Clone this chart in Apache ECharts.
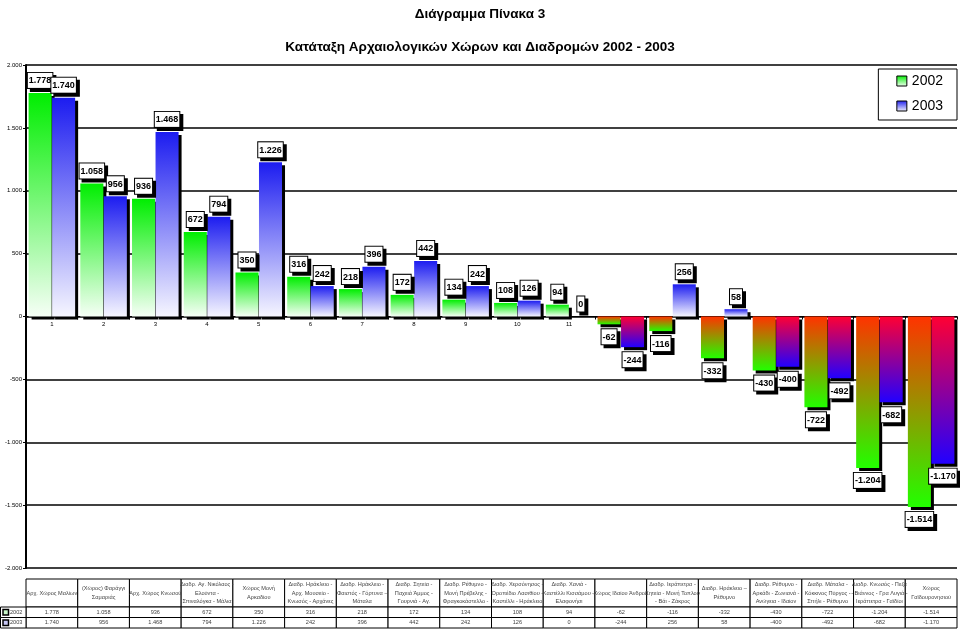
<!DOCTYPE html>
<html>
<head>
<meta charset="utf-8">
<script src="https://cdn.jsdelivr.net/npm/echarts@6/dist/echarts.min.js"></script>
<style>html,body{margin:0;padding:0;background:#fff;}#c{width:960px;height:631px;}</style>
</head>
<body>
<div id="c"></div>
<script>
const title = 'Διάγραμμα Πίνακα 3';
const subtitle = 'Κατάταξη Αρχαιολογικών Χώρων και Διαδρομών 2002 - 2003';
const categories = [
  'Αρχ. Χώρος Μαλίων',
  '(Χώρος) Φαράγγι\nΣαμαριάς',
  'Αρχ. Χώρος Κνωσού',
  'Διαδρ. Αγ. Νικόλαος -\nΕλούντα -\nΣπιναλόγκα - Μάλια',
  'Χώρος Μονή\nΑρκαδίου',
  'Διαδρ. Ηράκλειο -\nΑρχ. Μουσείο -\nΚνωσός - Αρχάνες',
  'Διαδρ. Ηράκλειο -\nΦαιστός - Γόρτυνα –\nΜάταλα',
  'Διαδρ. Σητεία -\nΠαχειά Άμμος -\nΓουρνιά - Αγ.',
  'Διαδρ. Ρέθυμνο -\nΜονή Πρέβελης -\nΦραγκοκάστελλο -',
  'Διαδρ. Χερσόνησος -\nΟροπέδιο Λασιθίου -\nΚαστέλλι - Ηράκλειο',
  'Διαδρ. Χανιά -\nΚαστέλλι Κισσάμου –\nΕλαφονήσι',
  'Χώρος Ιδαίου Άνδρου',
  'Διαδρ. Ιεράπετρα -\nΣητεία - Μονή Τοπλού\n- Βάι - Ζάκρος',
  'Διαδρ. Ηράκλειο –\nΡέθυμνο',
  'Διαδρ. Ρέθυμνο -\nΑρκάδι - Ζωνιανά -\nΑνώγεια - Ιδαίον',
  'Διαδρ. Μάταλα -\nΚόκκινος Πύργος -\nΣπήλι - Ρέθυμνο',
  'Διαδρ. Κνωσός - Πεζά\n- Βιάννος - Γρα Λυγιά -\nΙεράπετρα - Γαϊδίοι',
  'Χώρος\nΓαϊδουρονησιού'
];
const seriesNames = ['2002', '2003'];
const values2002 = [1778, 1058, 936, 672, 350, 316, 218, 172, 134, 108, 94, -62, -116, -332, -430, -722, -1204, -1514];
const values2003 = [1740, 956, 1468, 794, 1226, 242, 396, 442, 242, 126, 0, -244, 256, 58, -400, -492, -682, -1170];
const yTicks = [-2000, -1500, -1000, -500, 0, 500, 1000, 1500, 2000];

const FONT = 'Liberation Sans, Arial, sans-serif';

function fmt(v) {
  const s = Math.abs(v).toString().replace(/\B(?=(\d{3})+(?!\d))/g, '.');
  return (v < 0 ? '-' : '') + s;
}
function grad(top, bottom) {
  return new echarts.graphic.LinearGradient(0, 0, 0, 1, [{offset: 0, color: top}, {offset: 1, color: bottom}]);
}
const posCol = [['#00ee00', '#f6fff6'], ['#1c1cf0', '#f6f6ff']];
const negCol = [['#ff3300', '#22ff00'], ['#ff0033', '#2200ff']];
function items(vals, k) {
  return vals.map(v => ({
    value: v,
    itemStyle: {color: v >= 0 ? grad(posCol[k][0], posCol[k][1]) : grad(negCol[k][0], negCol[k][1])},
    label: {position: v >= 0 ? 'top' : 'bottom'}
  }));
}
const labelStyle = {
  show: true,
  formatter: p => fmt(p.value),
  fontSize: 9, lineHeight: 10, fontWeight: 'bold', color: '#000', fontFamily: FONT,
  backgroundColor: '#fff', borderColor: '#000', borderWidth: 1,
  padding: [3, 1, 2, 1],
  shadowColor: '#000', shadowOffsetX: 3, shadowOffsetY: 3, shadowBlur: 0,
  distance: 5
};
function series(k, vals) {
  return {
    name: seriesNames[k], type: 'bar', data: items(vals, k),
    barCategoryGap: '10%', barGap: '2%',
    itemStyle: {color: grad(posCol[k][0], posCol[k][1]), shadowColor: '#000', shadowOffsetX: 3, shadowOffsetY: 3, shadowBlur: 0},
    label: labelStyle
  };
}

const chart = echarts.init(document.getElementById('c'), null, {renderer: 'canvas'});
const gridLeft = 26, gridRight = 3, gridTop = 65, gridBottom = 63;
const gridH = 631 - gridTop - gridBottom;
chart.setOption({
  animation: false,
  backgroundColor: '#fff',
  title: [
    {text: title, left: 'center', top: 2, textStyle: {fontSize: 13.5, fontWeight: 'bold', fontFamily: FONT, color: '#000'}},
    {text: subtitle, left: 'center', top: 35, textStyle: {fontSize: 13.5, fontWeight: 'bold', fontFamily: FONT, color: '#000'}}
  ],
  legend: {
    orient: 'vertical', right: 3, top: 69,
    data: seriesNames,
    icon: 'rect', itemWidth: 10, itemHeight: 10, itemGap: 11,
    padding: [5, 14, 7, 18],
    borderColor: '#000', borderWidth: 1, backgroundColor: '#fff',
    itemStyle: {borderColor: '#000', borderWidth: 1, shadowColor: 'rgba(0,0,0,0)', shadowOffsetX: 0, shadowOffsetY: 0},
    textStyle: {fontSize: 14, color: '#000', fontFamily: FONT}
  },
  grid: {left: gridLeft, right: gridRight, top: gridTop, bottom: gridBottom, containLabel: false},
  xAxis: {
    type: 'category', data: categories,
    position: 'bottom', offset: -gridH / 2,
    axisLine: {onZero: false, lineStyle: {color: '#000', width: 1}},
    axisTick: {show: true, length: 3, lineStyle: {color: '#000'}},
    axisLabel: {fontSize: 6, color: '#000', margin: 5, fontFamily: FONT, interval: 0,
      formatter: (v, i) => i < 11 ? String(i + 1) : ''},
    z: 1
  },
  yAxis: {
    type: 'value', min: yTicks[0], max: yTicks[yTicks.length - 1], interval: 500,
    axisLine: {show: true, lineStyle: {color: '#000', width: 2}},
    axisTick: {show: true, length: 3, lineStyle: {color: '#000'}},
    axisLabel: {fontSize: 6, color: '#000', margin: 4, fontFamily: FONT, formatter: v => fmt(v)},
    splitLine: {show: true, lineStyle: {color: '#000', width: 1.5}}
  },
  series: [series(0, values2002), series(1, values2003)]
});

// data table under the chart
const tableTop = 579, headH = 28, rowH = 10.5, tableSize = 5.6;
const c0 = chart.convertToPixel({xAxisIndex: 0}, 0);
const c1 = chart.convertToPixel({xAxisIndex: 0}, 1);
const cw = c1 - c0;
const els = [];
const rows = [values2002, values2003];
const keyFill = ['#c8f5c8', '#c8c8f5'];
for (let i = 0; i < categories.length; i++) {
  const cx = chart.convertToPixel({xAxisIndex: 0}, i);
  const x = cx - cw / 2;
  els.push({type: 'rect', shape: {x: x, y: tableTop, width: cw, height: headH}, style: {fill: '#fff', stroke: '#000', lineWidth: 1}, z: 10});
  els.push({type: 'text', style: {text: categories[i], x: cx, y: tableTop + headH / 2, align: 'center', verticalAlign: 'middle', fontSize: tableSize, lineHeight: 8.5, fontFamily: FONT, fill: '#444'}, z: 11});
  for (let r = 0; r < 2; r++) {
    const y = tableTop + headH + r * rowH;
    els.push({type: 'rect', shape: {x: x, y: y, width: cw, height: rowH}, style: {fill: '#fff', stroke: '#000', lineWidth: 1}, z: 10});
    els.push({type: 'text', style: {text: fmt(rows[r][i]), x: cx, y: y + rowH / 2, align: 'center', verticalAlign: 'middle', fontSize: tableSize, fontFamily: FONT, fill: '#444'}, z: 11});
  }
}
for (let r = 0; r < 2; r++) {
  const y = tableTop + headH + r * rowH;
  const x0 = c0 - cw / 2;
  els.push({type: 'rect', shape: {x: 0.5, y: y, width: x0 - 0.5, height: rowH}, style: {fill: '#fff', stroke: '#000', lineWidth: 1}, z: 10});
  els.push({type: 'rect', shape: {x: 3, y: y + 2.5, width: 5.5, height: 5.5}, style: {fill: keyFill[r], stroke: '#000', lineWidth: 1.5}, z: 11});
  els.push({type: 'text', style: {text: seriesNames[r], x: 10, y: y + rowH / 2, align: 'left', verticalAlign: 'middle', fontSize: tableSize, fontFamily: FONT, fill: '#444'}, z: 11});
}
chart.setOption({graphic: {elements: els}});
</script>
</body>
</html>
